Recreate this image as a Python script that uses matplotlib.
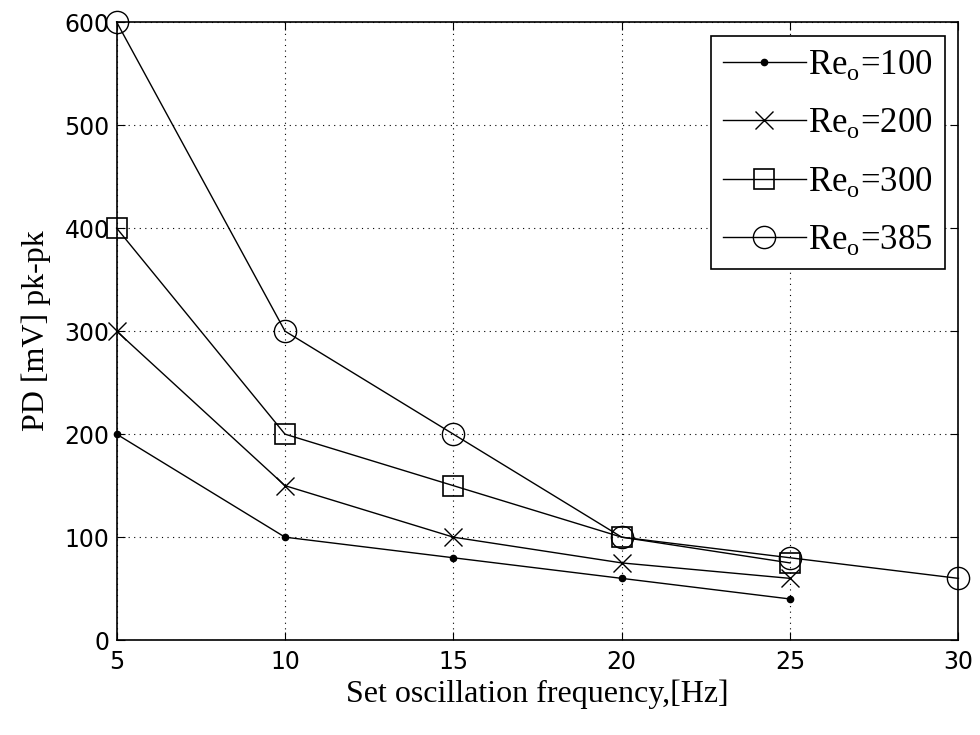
import matplotlib
matplotlib.use("Agg")
import matplotlib.pyplot as plt

freq = [5, 10, 15, 20, 25, 30]
re100 = [200, 100, 80, 60, 40]
re200 = [300, 150, 100, 75, 60]
re300 = [400, 200, 150, 100, 75]
re385 = [600, 300, 200, 100, 80, 60]
labels = ["100", "200", "300", "385"]

plt.rcParams["mathtext.fontset"] = "custom"
plt.rcParams["mathtext.rm"] = "Liberation Serif"

fig = plt.figure(figsize=(9.8, 7.35), dpi=100)
ax = fig.add_axes([0.119, 0.129, 0.859, 0.841])

series = [
    (re100, dict(marker=".", markersize=9)),
    (re200, dict(marker="x", markersize=13, markeredgewidth=1.0)),
    (re300, dict(marker="s", markersize=14, markerfacecolor="none", markeredgewidth=1.2)),
    (re385, dict(marker="o", markersize=16, markerfacecolor="none", markeredgewidth=1.0)),
]
for (vals, style), lab in zip(series, labels):
    ax.plot(freq[:len(vals)], vals, color="black", linewidth=1.0,
            label=r"Re$_\mathrm{o}$=" + lab, clip_on=False, **style)

ax.set_xlim(5, 30)
ax.set_ylim(0, 600)
ax.set_xticks(freq)
ax.set_yticks(range(0, 601, 100))
ax.grid(True, color="black", linestyle=(0, (1, 4)), linewidth=0.8)
ax.tick_params(direction="in", top=True, right=True, length=6, labelsize=17)
ax.tick_params(axis="x", pad=7)
ax.tick_params(axis="y", pad=5)
for s in ax.spines.values():
    s.set_linewidth(1.2)

ax.set_xlabel("Set oscillation frequency,[Hz]", family="Liberation Serif", fontsize=23, labelpad=4)
ax.set_ylabel("PD [mV] pk-pk", family="Liberation Serif", fontsize=23, labelpad=10)

leg = ax.legend(loc="upper right", prop={"family": "Liberation Serif", "size": 25},
                fancybox=False, edgecolor="black", framealpha=1, handlelength=2.4,
                borderaxespad=0.4, labelspacing=0.7, handletextpad=0.05,
                borderpad=0.35)
leg.get_frame().set_linewidth(1.2)

fig.savefig("out.png", dpi=100)
